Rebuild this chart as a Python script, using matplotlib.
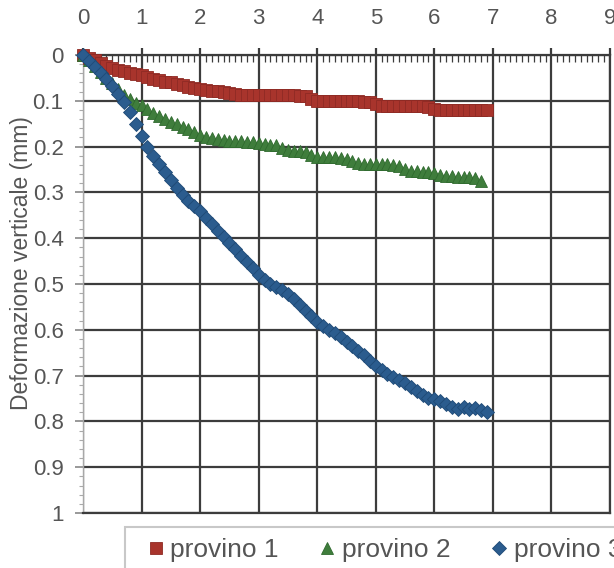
import matplotlib
matplotlib.use("Agg")
import matplotlib.pyplot as plt
from matplotlib.ticker import MultipleLocator
from matplotlib.patches import Rectangle

plt.rcParams['font.family'] = ['Liberation Sans', 'DejaVu Sans']

# ---- data ----
tempo = [0.0, 0.1, 0.2, 0.3, 0.4, 0.5, 0.6, 0.7, 0.8, 0.9,
         1.0, 1.1, 1.2, 1.3, 1.4, 1.5, 1.6, 1.7, 1.8, 1.9,
         2.0, 2.1, 2.2, 2.3, 2.4, 2.5, 2.6, 2.7, 2.8, 2.9,
         3.0, 3.1, 3.2, 3.3, 3.4, 3.5, 3.6, 3.7, 3.8, 3.9,
         4.0, 4.1, 4.2, 4.3, 4.4, 4.5, 4.6, 4.7, 4.8, 4.9,
         5.0, 5.1, 5.2, 5.3, 5.4, 5.5, 5.6, 5.7, 5.8, 5.9,
         6.0, 6.1, 6.2, 6.3, 6.4, 6.5, 6.6, 6.7, 6.8, 6.9]

provino_1 = [0.000, 0.006, 0.012, 0.018, 0.024, 0.028, 0.032, 0.036, 0.040, 0.042,
             0.044, 0.048, 0.052, 0.055, 0.058, 0.060, 0.063, 0.066, 0.069, 0.072,
             0.075, 0.077, 0.078, 0.079, 0.080, 0.084, 0.086, 0.087, 0.087, 0.087,
             0.087, 0.087, 0.088, 0.088, 0.088, 0.088, 0.088, 0.089, 0.089, 0.095,
             0.100, 0.100, 0.100, 0.100, 0.101, 0.101, 0.101, 0.101, 0.102, 0.102,
             0.108, 0.111, 0.111, 0.111, 0.111, 0.112, 0.112, 0.112, 0.112, 0.113,
             0.117, 0.120, 0.120, 0.120, 0.120, 0.120, 0.121, 0.121, 0.121, 0.121]

provino_2 = [0.000, 0.012, 0.025, 0.038, 0.050, 0.062, 0.075, 0.088, 0.097, 0.104,
             0.110, 0.117, 0.126, 0.133, 0.140, 0.146, 0.151, 0.157, 0.162, 0.168,
             0.174, 0.178, 0.181, 0.184, 0.186, 0.187, 0.188, 0.188, 0.190, 0.190,
             0.193, 0.195, 0.196, 0.197, 0.203, 0.208, 0.210, 0.210, 0.212, 0.218,
             0.222, 0.222, 0.223, 0.223, 0.224, 0.226, 0.232, 0.236, 0.237, 0.237,
             0.238, 0.238, 0.239, 0.240, 0.242, 0.248, 0.253, 0.254, 0.255, 0.255,
             0.258, 0.263, 0.265, 0.265, 0.266, 0.266, 0.267, 0.268, 0.276]

provino_3 = [0.000, 0.013, 0.027, 0.040, 0.053, 0.068, 0.085, 0.103, 0.125, 0.150,
             0.176, 0.200, 0.220, 0.238, 0.256, 0.273, 0.290, 0.305, 0.318, 0.330,
             0.341, 0.355, 0.369, 0.384, 0.398, 0.410, 0.424, 0.438, 0.452, 0.466,
             0.481, 0.492, 0.500, 0.506, 0.513, 0.522, 0.533, 0.546, 0.558, 0.570,
             0.582, 0.592, 0.600, 0.607, 0.616, 0.626, 0.636, 0.646, 0.656, 0.668,
             0.680, 0.688, 0.697, 0.703, 0.710, 0.716, 0.724, 0.733, 0.743, 0.748,
             0.750, 0.755, 0.762, 0.769, 0.772, 0.768, 0.772, 0.770, 0.776, 0.780]

serie = ["provino 1", "provino 2", "provino 3"]
x_ticks = [0, 1, 2, 3, 4, 5, 6, 7, 8, 9]
y_ticks = [0, 0.1, 0.2, 0.3, 0.4, 0.5, 0.6, 0.7, 0.8, 0.9, 1]
y_labels = ["0", "0.1", "0.2", "0.3", "0.4", "0.5", "0.6", "0.7", "0.8", "0.9", "1"]
y_title = "Deformazione verticale (mm)"

# ---- figure ----
W, H = 614, 568
fig = plt.figure(figsize=(W / 100, H / 100), dpi=100)
fig.patch.set_facecolor('white')
ax = fig.add_axes([83 / W, 1 - 513 / H, (610 - 83) / W, (513 - 55) / H])

grid_c = '#3c3c3c'
text_c = '#555555'

ax.set_xlim(0, 9)
ax.set_ylim(1, 0)
ax.xaxis.tick_top()
ax.set_xticks(x_ticks)
ax.set_xticklabels([str(t) for t in x_ticks])
ax.set_yticks(y_ticks)
ax.set_yticklabels(y_labels)
ax.xaxis.set_minor_locator(MultipleLocator(0.1))
ax.yaxis.set_minor_locator(MultipleLocator(0.02))

ax.grid(True, which='major', color=grid_c, linewidth=1.6, zorder=1)
ax.set_axisbelow(True)

for side in ['top', 'right', 'bottom']:
    ax.spines[side].set_color(grid_c)
    ax.spines[side].set_linewidth(1.6)
ax.spines['left'].set_color('#a8a8a8')
ax.spines['left'].set_linewidth(1.0)

ax.tick_params(axis='x', which='major', direction='out', length=5, width=1.6,
               color=grid_c, labelsize=16, labelcolor=text_c, pad=14)
ax.tick_params(axis='x', which='minor', direction='in', length=5, width=0.9,
               color=grid_c, top=True, bottom=False)
ax.tick_params(axis='y', which='major', direction='out', length=6, width=1.2,
               color='#888888', labelsize=16, labelcolor=text_c, pad=8)
ax.tick_params(axis='y', which='minor', direction='out', length=3, width=0.8,
               color='#aaaaaa')

# series
h1, = ax.plot(tempo[:len(provino_1)], provino_1, linestyle='none', marker='s',
              markersize=8, color='#a8342c', markeredgecolor='#8e2a24',
              markeredgewidth=0.6, clip_on=False, zorder=3, label=serie[0])
h2, = ax.plot(tempo[:len(provino_2)], provino_2, linestyle='none', marker='^',
              markersize=9, color='#3f7d3c', markeredgecolor='#2f6a2e',
              markeredgewidth=0.6, clip_on=False, zorder=4, label=serie[1])
h3, = ax.plot(tempo[:len(provino_3)], provino_3, linestyle='none', marker='D',
              markersize=7.5, color='#2b5c8e', markeredgecolor='#1f4a76',
              markeredgewidth=0.6, clip_on=False, zorder=5, label=serie[2])

fig.text(22 / W, 1 - 263 / H, y_title, rotation=90, ha='center', va='center',
         fontsize=16.5, color=text_c)

# legend box (extends past the figure edge, as in the reference)
fig.patches.append(Rectangle((125 / W, 1 - 620 / H), 600 / W, 93 / H,
                             transform=fig.transFigure, facecolor='white',
                             edgecolor='#c8c8c8', linewidth=1.5, zorder=0))
leg = fig.legend(handles=[h1, h2, h3], labels=serie, loc='upper left',
                 bbox_to_anchor=(145 / W, 1 - 538 / H), ncol=3, fontsize=19,
                 frameon=False, borderaxespad=0, borderpad=0,
                 handlelength=0.8, handletextpad=0.15, columnspacing=1.45,
                 markerscale=1.0)
for t in leg.get_texts():
    t.set_color(text_c)

fig.savefig('out.png', dpi=100)
